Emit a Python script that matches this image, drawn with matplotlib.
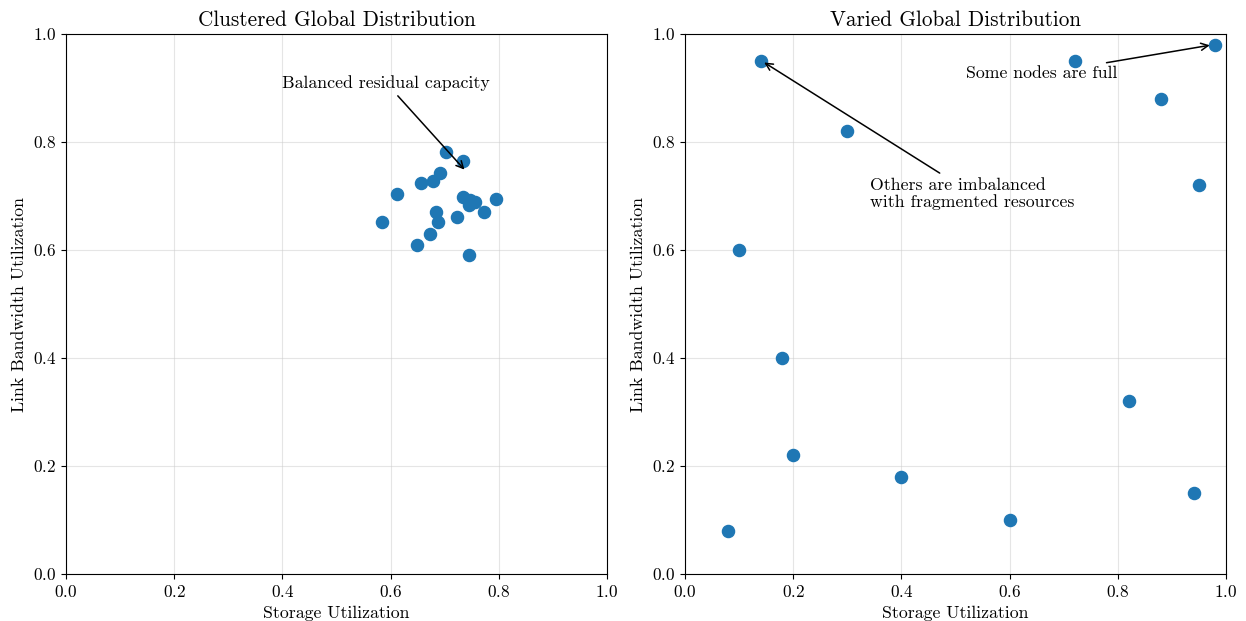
import matplotlib
matplotlib.use("Agg")
import matplotlib.pyplot as plt

plt.rcParams['font.family'] = ['cmr10', 'DejaVu Serif']
plt.rcParams['axes.formatter.use_mathtext'] = True
plt.rcParams['mathtext.fontset'] = 'cm'

# Clustered distribution
clustered_x = [0.702, 0.734, 0.691, 0.678, 0.656, 0.611, 0.734, 0.747, 0.756, 0.744,
               0.794, 0.773, 0.683, 0.723, 0.688, 0.585, 0.672, 0.649, 0.745]
clustered_y = [0.782, 0.764, 0.742, 0.728, 0.724, 0.703, 0.698, 0.693, 0.689, 0.683,
               0.695, 0.671, 0.670, 0.661, 0.652, 0.652, 0.629, 0.610, 0.590]

# Varied distribution
varied_x = [0.14, 0.30, 0.10, 0.18, 0.20, 0.08, 0.40, 0.60, 0.72, 0.88, 0.82, 0.95, 0.94, 0.98]
varied_y = [0.95, 0.82, 0.60, 0.40, 0.22, 0.08, 0.18, 0.10, 0.95, 0.88, 0.32, 0.72, 0.15, 0.98]

titles = ["Clustered Global Distribution", "Varied Global Distribution"]
xlabel = "Storage Utilization"
ylabel = "Link Bandwidth Utilization"
ticks = [0.0, 0.2, 0.4, 0.6, 0.8, 1.0]

fig = plt.figure(figsize=(12.46, 6.21), dpi=100)
ax1 = fig.add_axes([66/1246, 47/621, 541/1246, 540/621])
ax2 = fig.add_axes([685/1246, 47/621, 541/1246, 540/621])

for ax, xs, ys, title in [(ax1, clustered_x, clustered_y, titles[0]),
                          (ax2, varied_x, varied_y, titles[1])]:
    ax.scatter(xs, ys, s=76, color='#1f77b4', zorder=3)
    ax.set_xlim(0, 1)
    ax.set_ylim(0, 1)
    ax.set_xticks(ticks)
    ax.set_yticks(ticks)
    ax.tick_params(labelsize=12.3)
    ax.grid(True, color='#cccccc', alpha=0.5, linewidth=0.8)
    ax.set_axisbelow(True)
    ax.set_title(title, fontsize=15.3)
    ax.set_xlabel(xlabel, fontsize=12.8)
    ax.set_ylabel(ylabel, fontsize=12.8)

arrow = dict(arrowstyle='->', color='black', lw=1.1)
ax1.annotate("Balanced residual capacity", xy=(0.74, 0.745), xytext=(0.40, 0.90),
             fontsize=12.8, arrowprops=arrow)
ax2.annotate("Some nodes are full", xy=(0.975, 0.98), xytext=(0.52, 0.918),
             fontsize=12.8, arrowprops=arrow)
ax2.annotate("Others are imbalanced\nwith fragmented resources", xy=(0.142, 0.95),
             xytext=(0.342, 0.68), fontsize=12.8, linespacing=1.1, arrowprops=arrow)

fig.savefig("out.png", dpi=100)
